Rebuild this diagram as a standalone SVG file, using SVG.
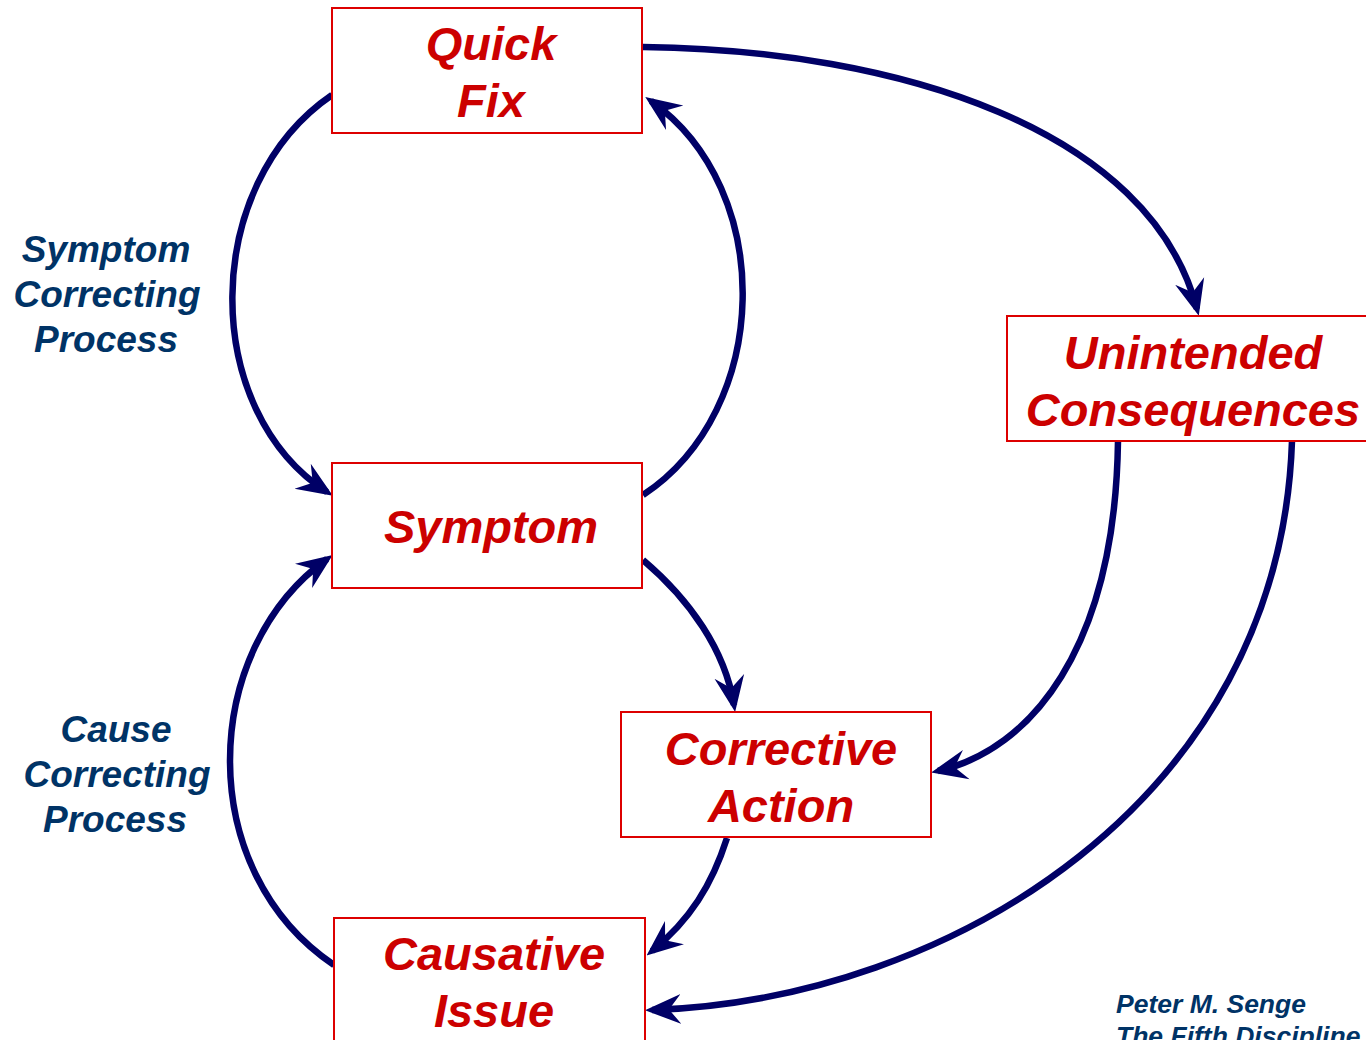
<svg xmlns="http://www.w3.org/2000/svg" width="1366" height="1040" viewBox="0 0 1366 1040">
<style>
.box{fill:#fff;stroke:#dd0000;stroke-width:2}
.t{font-family:"Liberation Sans",Arial,sans-serif;font-weight:bold;font-style:italic;font-size:47px;fill:#cc0000;text-anchor:middle}
.l{font-family:"Liberation Sans",Arial,sans-serif;font-weight:bold;font-style:italic;font-size:37px;fill:#003366;text-anchor:middle}
.c{font-family:"Liberation Sans",Arial,sans-serif;font-weight:bold;font-style:italic;font-size:26.5px;fill:#003366}
.e{fill:none;stroke:#000066;stroke-width:6.5;marker-end:url(#ah)}
</style>
<defs>
<marker id="ah" markerUnits="userSpaceOnUse" markerWidth="36" markerHeight="32" viewBox="0 0 36 32" refX="29" refY="16" orient="auto">
<path d="M36,16 L0,1 L12,16 L0,31 Z" fill="#000066"/>
</marker>
</defs>
<rect width="1366" height="1040" fill="#fff"/>
<g id="connectors">
<path class="e" d="M332,95 C200,185 200,410 327,492"/>
<path class="e" d="M643,495 C772,410 777,190 651,101"/>
<path class="e" d="M334,965 C193,870 200,650 327,559"/>
<path class="e" d="M643,560 C690,600 725,650 734,705"/>
<path class="e" d="M727,838 C712,885 690,920 652,951"/>
<path class="e" d="M643,47 C900,50 1150,130 1197,309"/>
<path class="e" d="M1118,441 C1115,650 1030,750 938,771"/>
<path class="e" d="M1292,441 C1280,800 950,1000 652,1010"/>
</g>
<g id="quickfix">
<rect class="box" x="332" y="8" width="310" height="125"/>
<text class="t" x="491" y="60">Quick</text>
<text class="t" x="491" y="117">Fix</text>
</g>
<g id="symptom">
<rect class="box" x="332" y="463" width="310" height="125"/>
<text class="t" x="491" y="543">Symptom</text>
</g>
<g id="corrective">
<rect class="box" x="621" y="712" width="310" height="125"/>
<text class="t" x="781" y="765">Corrective</text>
<text class="t" x="781" y="822">Action</text>
</g>
<g id="causative">
<rect class="box" x="334" y="918" width="311" height="130"/>
<text class="t" x="494" y="970">Causative</text>
<text class="t" x="494" y="1027">Issue</text>
</g>
<g id="unintended">
<rect class="box" x="1007" y="316" width="370" height="125"/>
<text class="t" x="1193" y="369">Unintended</text>
<text class="t" x="1193" y="426">Consequences</text>
</g>
<g id="labels">
<text class="l" x="106" y="262">Symptom</text>
<text class="l" x="107" y="307">Correcting</text>
<text class="l" x="106" y="352">Process</text>
<text class="l" x="116" y="742">Cause</text>
<text class="l" x="117" y="787">Correcting</text>
<text class="l" x="115" y="832">Process</text>
<text class="c" x="1116" y="1013">Peter M. Senge</text>
<text class="c" x="1116" y="1045">The Fifth Discipline</text>
</g>
</svg>
